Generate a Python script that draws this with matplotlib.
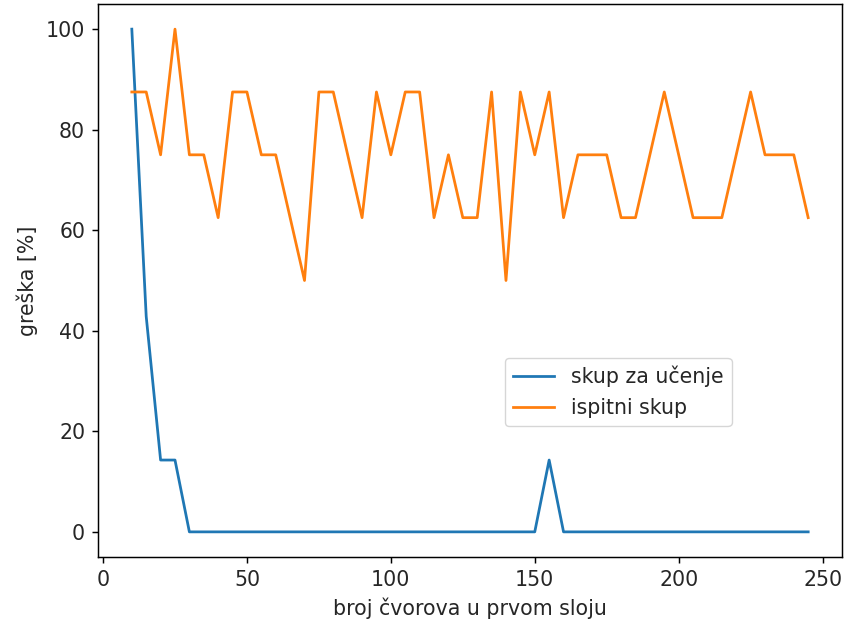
import matplotlib
matplotlib.use("Agg")
import matplotlib.pyplot as plt

nodes = list(range(10, 250, 5))
train_err = [100, 42.857, 14.286, 14.286] + [0] * 24 + [0, 14.286] + [0] * 18
test_err = [87.5, 87.5, 75, 100, 75, 75, 62.5, 87.5, 87.5, 75,
            75, 62.5, 50, 87.5, 87.5, 75, 62.5, 87.5, 75, 87.5,
            87.5, 62.5, 75, 62.5, 62.5, 87.5, 50, 87.5, 75, 87.5,
            62.5, 75, 75, 75, 62.5, 62.5, 75, 87.5, 75, 62.5,
            62.5, 62.5, 75, 87.5, 75, 75, 75, 62.5]
train_err = train_err[:len(nodes)]

s = 1.32
plt.rcParams.update({
    'font.size': 14.8,
    'axes.linewidth': 0.8 * s,
    'xtick.major.size': 3.5 * s,
    'ytick.major.size': 3.5 * s,
    'xtick.major.width': 0.8 * s,
    'ytick.major.width': 0.8 * s,
    'xtick.major.pad': 3.5 * s,
    'ytick.major.pad': 3.5 * s,
    'text.color': '#262626',
    'axes.labelcolor': '#262626',
    'xtick.labelcolor': '#262626',
    'ytick.labelcolor': '#262626',
})

fig = plt.figure(figsize=(8.44, 6.24), dpi=100)
ax = fig.add_axes([98 / 844, 67 / 624, 744 / 844, 553 / 624])
ax.plot(nodes, train_err, color='#1f77b4', lw=1.5 * s, label='skup za učenje')
ax.plot(nodes, test_err, color='#ff7f0e', lw=1.5 * s, label='ispitni skup')
ax.set_xlabel('broj čvorova u prvom sloju', labelpad=4 * s)
ax.set_ylabel('greška [%]', labelpad=4 * s)
ax.set_xticks([0, 50, 100, 150, 200, 250])
ax.set_yticks([0, 20, 40, 60, 80, 100])
ax.legend(loc='lower left', bbox_to_anchor=(0.547, 0.237), borderaxespad=0)
fig.savefig('out.png', dpi=100)
